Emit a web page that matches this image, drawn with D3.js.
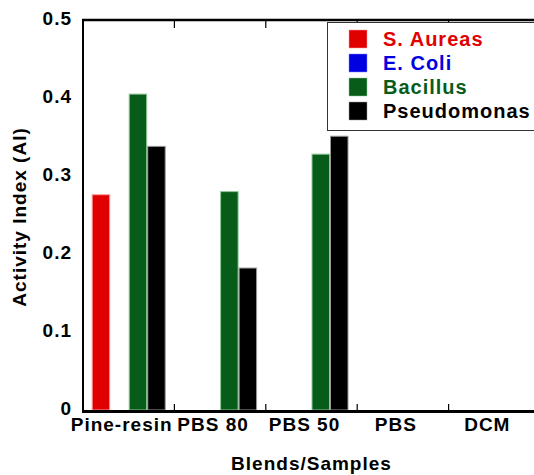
<!DOCTYPE html>
<html>
<head>
<meta charset="utf-8">
<script src="https://cdn.jsdelivr.net/npm/d3@7"></script>
<style>
  body { margin: 0; background: #fff; }
  svg { display: block; }
  text { font-family: "Liberation Sans", Arial, sans-serif; font-weight: bold; letter-spacing: 1px; }
</style>
</head>
<body>
<svg id="chart" width="534" height="475"></svg>
<script>
// Data
const samples = ["Pine-resin", "PBS 80", "PBS 50", "PBS", "DCM"];
const seriesNames = ["S. Aureas", "E. Coli", "Bacillus", "Pseudomonas"];
const seriesColours = ["#e00000", "#0000e0", "#075c1a", "#000000"];
const seriesEdges = ["#ff9a9a", "#8080ff", "#8fc79a", "#9a9a9a"];
const sAureas = [0.276, 0, 0, 0, 0];
const eColi = [0, 0, 0, 0, 0];
const bacillus = [0.405, 0.280, 0.328, 0, 0];
const pseudomonas = [0.338, 0.182, 0.351, 0, 0];
const yTicks = [0, 0.1, 0.2, 0.3, 0.4, 0.5];

const allSeries = [sAureas, eColi, bacillus, pseudomonas];

const svg = d3.select("#chart");
const margin = { left: 83, right: 540, top: 20, bottom: 410 };

const x = d3.scaleBand().domain(samples).range([margin.left, margin.right]);
const inner = d3.scaleBand().domain(d3.range(seriesNames.length))
    .range([0, x.bandwidth()]).paddingOuter(0.47);
const y = d3.scaleLinear().domain([0, 0.5]).range([margin.bottom, margin.top]);

// Bars
samples.forEach((s, i) => {
    allSeries.forEach((vals, k) => {
        if (!vals[i]) return;
        svg.append("rect")
            .attr("x", x(s) + inner(k) + 0.5)
            .attr("y", y(vals[i]))
            .attr("width", inner.bandwidth() - 1)
            .attr("height", y(0) - y(vals[i]))
            .attr("fill", seriesColours[k])
            .attr("stroke", seriesEdges[k])
            .attr("stroke-width", 1);
    });
});

// Frame lines: left, top, bottom
const frame = svg.append("g").attr("stroke", "#000").attr("fill", "none");
frame.append("line").attr("x1", margin.left).attr("x2", margin.left)
    .attr("y1", margin.top).attr("y2", margin.bottom + 2).attr("stroke-width", 2);
frame.append("line").attr("x1", margin.left - 1).attr("x2", margin.right)
    .attr("y1", margin.top).attr("y2", margin.top).attr("stroke-width", 2.5);
frame.append("line").attr("x1", margin.left - 1).attr("x2", margin.right)
    .attr("y1", margin.bottom + 1.5).attr("y2", margin.bottom + 1.5).attr("stroke-width", 3);

// Category boundary ticks, top and bottom, pointing inward
const bounds = samples.slice(1).map(s => x(s));
bounds.forEach(bx => {
    frame.append("line").attr("x1", bx).attr("x2", bx)
        .attr("y1", margin.top).attr("y2", margin.top + 8).attr("stroke-width", 1.2);
    frame.append("line").attr("x1", bx).attr("x2", bx)
        .attr("y1", margin.bottom).attr("y2", margin.bottom - 6).attr("stroke-width", 1.2);
});

// Y tick labels
svg.append("g").selectAll("text").data(yTicks).join("text")
    .attr("x", 72)
    .attr("y", d => y(d) + 5)
    .attr("text-anchor", "end")
    .attr("font-size", 19)
    .text(d => d === 0 ? "0" : d.toFixed(1));

// X tick labels
svg.append("g").selectAll("text").data(samples).join("text")
    .attr("x", d => x(d) + x.bandwidth() / 2 - 7)
    .attr("y", 431)
    .attr("text-anchor", "middle")
    .attr("font-size", 19)
    .text(d => d);

// Axis titles
svg.append("text")
    .attr("x", (margin.left + margin.right) / 2)
    .attr("y", 470)
    .attr("text-anchor", "middle")
    .attr("font-size", 19)
    .text("Blends/Samples");

svg.append("text")
    .attr("transform", `translate(26,${(margin.top + margin.bottom) / 2 + 2}) rotate(-90)`)
    .attr("text-anchor", "middle")
    .attr("font-size", 19)
    .text("Activity Index (AI)");

// Legend
const legend = svg.append("g").attr("transform", "translate(327,22)");
legend.append("rect")
    .attr("x", 0.5).attr("y", 0.5)
    .attr("width", 230).attr("height", 108)
    .attr("fill", "#fff").attr("stroke", "#333").attr("stroke-width", 1);
seriesNames.forEach((name, k) => {
    const row = legend.append("g").attr("transform", `translate(22,${8 + k * 24})`);
    row.append("rect").attr("width", 18).attr("height", 18)
        .attr("fill", seriesColours[k]).attr("stroke", seriesEdges[k]).attr("stroke-width", 0.5);
    row.append("text").attr("x", 34).attr("y", 16)
        .attr("font-size", 20)
        .attr("fill", seriesColours[k])
        .text(name);
});
</script>
</body>
</html>
